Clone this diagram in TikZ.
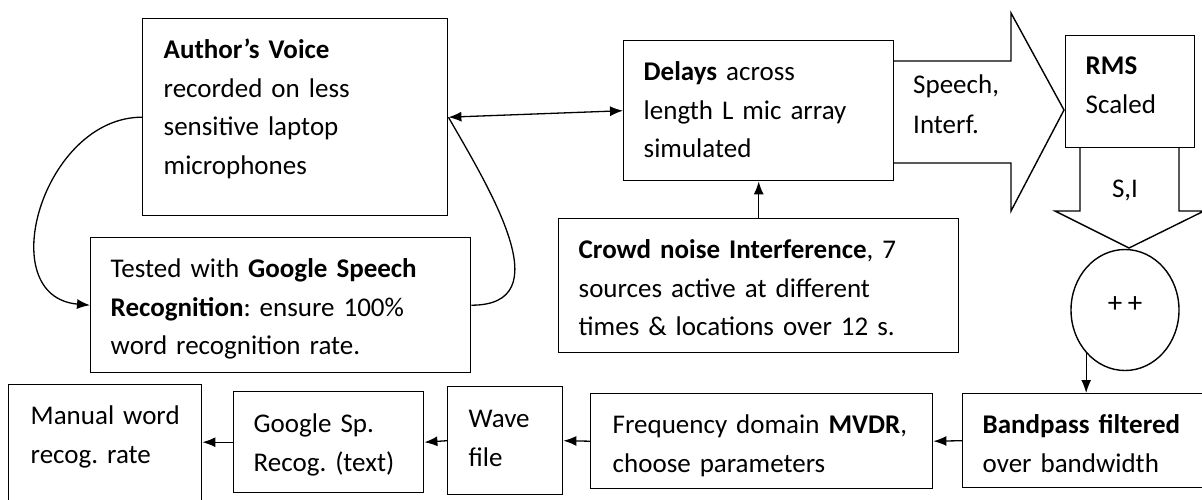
\documentclass[tikz,border=0pt]{standalone}
\usepackage{fontspec}
\setmainfont{Carlito}[WordSpace=0.85]
\frenchspacing
\usepackage{tikz}
\usetikzlibrary{calc}
\usetikzlibrary{arrows.meta}
\usetikzlibrary{shapes.geometric}
\tikzset{>={Latex[length=13pt,width=10pt]}}
\tikzstyle{blk} = [rectangle, draw=black, line width=1.4pt, anchor=north west, align=left, inner ysep=0pt, text height=40pt, font=\fontsize{27}{38.5}\selectfont]
\tikzstyle{lbl} = [align=left, inner sep=0pt, font=\fontsize{27}{40}\selectfont]
\tikzstyle{bow} = [line width=1.3pt]
\tikzstyle{fat} = [line width=1.4pt, line join=miter]

\begin{document}
\begin{tikzpicture}[x=1pt, y=1pt]
\useasboundingbox (0,0) rectangle (1202,-499);

\node [blk, text width=263pt, inner xsep=21pt, text depth=157pt] (author) at (142,-18) {\textbf{Author's Voice}\\recorded on less\\sensitive laptop\\microphones};
\node [blk, text width=340pt, inner xsep=20pt, text depth=95pt] (tested) at (90,-237) {Tested with \textbf{Google Speech}\\\textbf{Recognition}: ensure 100\%\\word recognition rate.};
\node [blk, text width=230pt, inner xsep=20pt, text depth=100pt] (delays) at (623,-40) {\textbf{Delays} across\\length L mic array\\simulated};
\node [blk, text width=360pt, inner xsep=20pt, text depth=94pt] (crowd) at (558,-218) {\textbf{Crowd noise Interference}, 7\\sources active at different\\times \& locations over 12 s.};
\node [blk, text width=89pt, inner xsep=20pt, text height=39pt, text depth=73pt] (rms) at (1065,-35) {\textbf{RMS}\\Scaled};
\node [ellipse, draw=black, line width=1.4pt, minimum width=108pt, minimum height=121pt, inner sep=0pt, font=\fontsize{29}{39}\selectfont] (sum) at (1125,-310) {\raisebox{10pt}{+ +}};

\node [blk, text width=250pt, inner xsep=20pt, text depth=54pt] (bandpass) at (962,-393) {\textbf{Bandpass filtered}\\over bandwidth};
\node [blk, text width=298pt, inner xsep=22pt, text depth=55pt] (mvdr) at (590,-393) {Frequency domain \textbf{MVDR},\\choose parameters};
\node [blk, text width=73pt, inner xsep=21pt, text height=41pt, text depth=67pt] (wave) at (447,-386) {Wave\\file};
\node [blk, text width=150pt, inner xsep=20pt, text height=41pt, text depth=60pt] (google) at (233,-391) {Google Sp.\\Recog. (text)};
\node [blk, text width=149pt, inner xsep=22pt, text depth=120pt] (manual) at (8,-384) {\mbox{Manual word}\\recog. rate};

\draw [fat] (893,-61) -- (1011,-61) -- (1011,-13) -- (1064,-110) -- (1011,-211) -- (1011,-163) -- (893,-163);
\node [lbl, anchor=base west] (sig) at (913,-133) {Speech,\\Interf.};
\draw [fat] (1080,-147) -- (1080,-211) -- (1055,-211) -- (1129,-248) -- (1204,-211) -- (1179,-211) -- (1179,-147);
\node [lbl, anchor=base] (si) at (1125,-197) {S,I};

\draw [<->, bow] (author.east) -- (delays.west);
\draw [->, bow] (crowd.north) -- (delays.south);
\draw [->, bow] (author.west) to [out=180, in=175, looseness=1.3] (tested.west);
\draw [bow] (tested.east) to [out=0, in=-60, looseness=1.2] (author.east);
\draw [->, bow] (sum.228) -- (sum.228 |- bandpass.north);
\draw [->, bow] (bandpass.west) -- (mvdr.east);
\draw [->, bow] (mvdr.west) -- (wave.east);
\draw [->, bow] (wave.west) -- (google.east);
\draw [->, bow] (google.west) -- (google.west -| manual.east);
\end{tikzpicture}
\end{document}
